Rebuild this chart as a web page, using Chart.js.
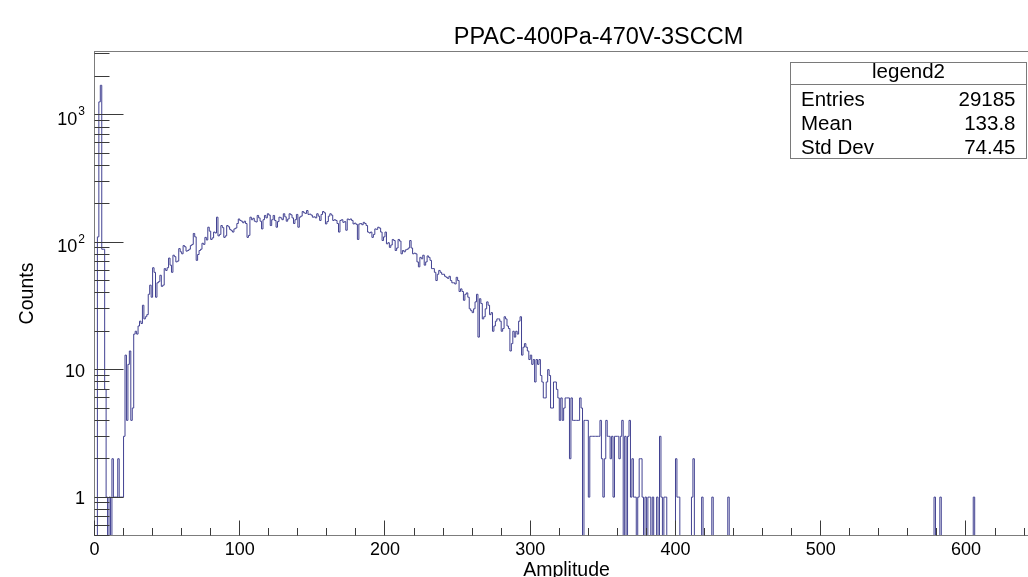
<!DOCTYPE html>
<html>
<head>
<meta charset="utf-8">
<title>PPAC-400Pa-470V-3SCCM</title>
<script src="https://cdn.jsdelivr.net/npm/chart.js@4.4.1/dist/chart.umd.min.js"></script>
<style>
  html, body { margin: 0; padding: 0; background: #fff; overflow: hidden; }
  #wrap { width: 1028px; height: 577px; overflow: hidden; }
  canvas { display: block; }
</style>
</head>
<body>
<div id="wrap"><canvas id="hist" width="1045" height="577"></canvas></div>
<script>
// histogram: 650 bins of width 1 from 0 to 650
const chartTitle = 'PPAC-400Pa-470V-3SCCM';
const xTitle = 'Amplitude';
const yTitle = 'Counts';
const nBins = 650;
const xMin = 0, xMax = 650;
const yMin = 0.5, yMax = 3130;

// bin contents for bins 0..439
const counts = [
  0, 0, 110, 1260, 1700, 88, 88, 7, 1, 0,
  1, 0, 2, 1, 1, 1, 2, 1, 1, 1,
  3, 13, 4, 11, 14, 4, 5, 19, 20, 19,
  22, 24, 23, 32, 25, 26, 27, 39, 46, 37,
  63, 58, 37, 48, 49, 55, 45, 46, 62, 60,
  63, 75, 66, 58, 79, 77, 70, 71, 89, 84,
  81, 94, 92, 85, 86, 88, 94, 96, 117, 110,
  72, 80, 86, 88, 98, 96, 109, 104, 131, 122,
  105, 108, 120, 118, 157, 112, 115, 135, 130, 109,
  112, 135, 132, 126, 123, 120, 127, 129, 140, 152,
  148, 146, 142, 146, 140, 109, 113, 157, 150, 154,
  146, 144, 162, 155, 146, 127, 150, 162, 155, 167,
  163, 135, 150, 162, 148, 131, 145, 157, 155, 150,
  167, 158, 146, 152, 167, 164, 155, 140, 150, 165,
  131, 157, 160, 174, 170, 168, 177, 165, 166, 163,
  157, 158, 155, 167, 160, 148, 165, 174, 170, 139,
  145, 160, 167, 163, 148, 150, 148, 140, 120, 148,
  150, 143, 145, 124, 152, 150, 152, 148, 139, 141,
  138, 105, 139, 140, 137, 143, 140, 135, 120, 118,
  120, 109, 115, 127, 126, 131, 129, 120, 103, 110,
  120, 97, 99, 91, 95, 105, 103, 86, 90, 105,
  102, 81, 86, 84, 87, 88, 90, 103, 90, 81,
  82, 81, 70, 64, 76, 74, 79, 66, 70, 78,
  76, 72, 62, 62, 58, 50, 56, 60, 58, 56,
  56, 54, 53, 52, 54, 50, 48, 48, 47, 53,
  50, 41, 43, 41, 35, 39, 40, 37, 30, 29,
  28, 30, 34, 39, 18, 36, 33, 25, 26, 30,
  34, 32, 27, 28, 20, 22, 24, 25, 25, 24,
  20, 21, 26, 25, 22, 21, 14, 16, 20, 18,
  20, 19, 24, 26, 13, 15, 16, 15, 14, 12,
  13, 11, 12, 8, 12, 11, 12, 9, 8, 6,
  6, 8, 10, 9, 5, 5, 8, 8, 7, 6,
  4, 6, 4, 5, 6, 6, 6, 2, 6, 4,
  4, 4, 4, 4, 6, 5, 0, 4, 4, 4,
  1, 3, 3, 3, 3, 3, 3, 3, 4, 2,
  1, 2, 4, 3, 3, 2, 3, 1, 3, 3,
  3, 2, 3, 4, 0, 3, 0, 3, 4, 1,
  2, 1, 1, 0, 1, 2, 2, 1, 0, 1,
  0, 1, 1, 0, 1, 0, 0, 1, 0, 3,
  1, 0, 1, 1, 0, 0, 0, 0, 0, 0,
  2, 1, 1, 0, 0, 0, 0, 0, 0, 0,
  0, 1, 2, 0, 0, 0, 0, 0, 1, 0,
  0, 0, 0, 0, 0, 1, 0, 0, 0, 0,
  0, 0, 0, 0, 0, 0, 1, 0, 0, 0
];
// lone counts far out in the tail
const tailBins = [578, 582, 605];
const tailCounts = [1, 1, 1];

const xTicks = [0, 100, 200, 300, 400, 500, 600];
const xTickLabels = ['0', '100', '200', '300', '400', '500', '600'];
const yTicks = [1, 10, 100, 1000];
const yTickBase = ['1', '10', '10', '10'];
const yTickExp = ['', '', '2', '3'];

const statTitle = 'legend2';
const statNames = ['Entries', 'Mean', 'Std Dev'];
const statValues = ['29185', '133.8', '74.45'];

const FONT = '"Liberation Sans", Arial, Helvetica, sans-serif';
const FLOOR = 0.1; // empty bins drop below the log axis, like ROOT draws them

const content = new Array(nBins).fill(0);
counts.forEach((c, i) => { content[i] = c; });
tailBins.forEach((b, i) => { content[b] = tailCounts[i]; });

const points = [{ x: xMin, y: FLOOR }];
content.forEach((c, i) => points.push({ x: xMin + i, y: c > 0 ? c : FLOOR }));
points.push({ x: xMin + nBins, y: FLOOR });

const half = v => Math.round(v - 0.5) + 0.5;

const rootFrame = {
  id: 'rootFrame',
  afterDatasetsDraw(chart) {
    const { ctx, chartArea: a } = chart;
    const x = chart.scales.x, y = chart.scales.y;
    ctx.save();

    // frame
    ctx.lineWidth = 1;
    ctx.strokeStyle = '#7c7c7c';
    ctx.strokeRect(a.left, a.top, a.right - a.left, a.bottom - a.top);

    // ticks, drawn inside the frame
    ctx.strokeStyle = '#3a3a3a';
    ctx.beginPath();
    for (let d = -1; d <= 4; d++) {
      for (let k = 1; k <= 9; k++) {
        const v = k * Math.pow(10, d);
        if (v < yMin - 1e-9 || v > yMax) continue;
        const py = half(y.getPixelForValue(v));
        ctx.moveTo(a.left, py);
        ctx.lineTo(a.left + (k === 1 ? 29 : 15), py);
      }
    }
    for (let v = xMin; v <= xMax; v += 20) {
      const p = half(x.getPixelForValue(v));
      ctx.moveTo(p, a.bottom);
      ctx.lineTo(p, a.bottom - (v % 100 === 0 ? 15 : 7.5));
    }
    ctx.stroke();

    // tick labels
    ctx.fillStyle = '#000';
    ctx.textBaseline = 'alphabetic';
    ctx.font = '18px ' + FONT;
    ctx.textAlign = 'center';
    xTicks.forEach((v, i) => ctx.fillText(xTickLabels[i], x.getPixelForValue(v), 555));

    const right = a.left - 9.5;
    ctx.textAlign = 'right';
    yTicks.forEach((v, i) => {
      const py = y.getPixelForValue(v);
      if (yTickExp[i]) {
        ctx.font = '12px ' + FONT;
        const ew = ctx.measureText(yTickExp[i]).width;
        ctx.fillText(yTickExp[i], right, py + 0.5);
        ctx.font = '18px ' + FONT;
        ctx.fillText(yTickBase[i], right - ew - 1, py + 10);
      } else {
        ctx.font = '18px ' + FONT;
        ctx.fillText(yTickBase[i], right, py + 7);
      }
    });

    // axis titles
    ctx.font = '19.5px ' + FONT;
    ctx.textAlign = 'center';
    ctx.fillText(xTitle, (a.left + a.right) / 2, 576);
    ctx.save();
    ctx.translate(33, (a.top + a.bottom) / 2);
    ctx.rotate(-Math.PI / 2);
    ctx.fillText(yTitle, 0, 0);
    ctx.restore();

    // title
    ctx.font = '23.5px ' + FONT;
    ctx.fillText(chartTitle, 598.5, 44);

    // stats box
    const bx = 790.5, by = 62.5, bw = 236, bh = 96;
    ctx.fillStyle = '#fff';
    ctx.fillRect(bx, by, bw, bh);
    ctx.strokeStyle = '#7a7a7a';
    ctx.strokeRect(bx, by, bw, bh);
    ctx.beginPath();
    ctx.moveTo(bx, 84.5);
    ctx.lineTo(bx + bw, 84.5);
    ctx.stroke();
    ctx.fillStyle = '#000';
    ctx.font = '20.5px ' + FONT;
    ctx.textAlign = 'center';
    ctx.fillText(statTitle, bx + bw / 2, 78);
    statNames.forEach((n, i) => {
      ctx.textAlign = 'left';
      ctx.fillText(n, 801, 106 + i * 24);
      ctx.textAlign = 'right';
      ctx.fillText(statValues[i], 1015.5, 106 + i * 24);
    });

    ctx.restore();
  }
};

new Chart(document.getElementById('hist'), {
  type: 'line',
  data: {
    datasets: [{
      label: yTitle,
      data: points,
      stepped: 'before',
      borderColor: 'rgb(66, 66, 146)',
      borderWidth: 1,
      pointRadius: 0,
      fill: false
    }]
  },
  options: {
    responsive: false,
    animation: false,
    devicePixelRatio: 1,
    layout: { padding: { left: 94.5, right: 6.4, top: 51.5, bottom: 41.5 } },
    plugins: { legend: { display: false }, tooltip: { enabled: false }, title: { display: false } },
    scales: {
      x: { type: 'linear', min: xMin, max: xMax, display: false },
      y: { type: 'logarithmic', min: yMin, max: yMax, display: false }
    }
  },
  plugins: [rootFrame]
});
</script>
</body>
</html>
